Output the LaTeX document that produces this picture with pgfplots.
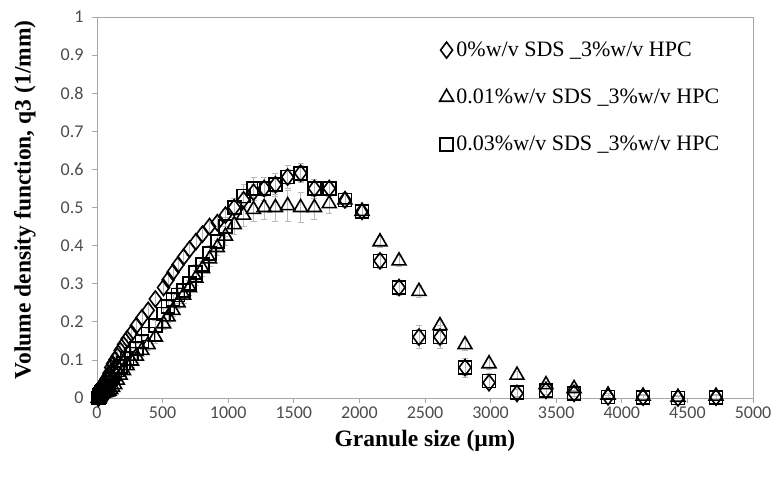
\documentclass[border=0pt]{standalone}
\usepackage{pgfplots}
\usepackage{pgfplotstable}
\pgfplotsset{compat=1.18}
\usepackage{fontspec}
\setmainfont{Liberation Serif}
\newfontfamily\carlito{Carlito}

% granule size (um), q3 for each formulation with its error
\pgfplotstableread{
x     D      De     T      Te     S      Se
10    0.000  0.005  0.000  0.005  0.000  0.005
12    0.000  0.005  0.000  0.005  0.000  0.005
14    0.005  0.005  0.000  0.005  0.000  0.005
16    0.008  0.005  0.000  0.005  0.002  0.005
18    0.010  0.005  0.002  0.005  0.004  0.005
21    0.012  0.005  0.004  0.005  0.006  0.005
24    0.015  0.005  0.006  0.005  0.008  0.005
28    0.018  0.005  0.008  0.005  0.010  0.005
32    0.020  0.005  0.010  0.005  0.012  0.005
36    0.025  0.005  0.011  0.005  0.015  0.005
41    0.030  0.005  0.012  0.005  0.018  0.005
47    0.035  0.005  0.013  0.005  0.020  0.005
54    0.040  0.010  0.014  0.005  0.022  0.010
62    0.045  0.010  0.015  0.005  0.025  0.010
70    0.050  0.010  0.015  0.005  0.028  0.010
80    0.055  0.010  0.016  0.005  0.032  0.010
92    0.065  0.010  0.018  0.010  0.040  0.010
105   0.080  0.010  0.022  0.010  0.050  0.010
119   0.090  0.015  0.028  0.010  0.058  0.015
136   0.100  0.015  0.035  0.010  0.065  0.015
155   0.110  0.015  0.047  0.010  0.073  0.015
177   0.125  0.015  0.060  0.015  0.082  0.015
202   0.140  0.015  0.072  0.015  0.092  0.015
230   0.155  0.015  0.085  0.015  0.103  0.015
263   0.170  0.015  0.097  0.015  0.116  0.015
300   0.190  0.015  0.110  0.015  0.130  0.015
342   0.210  0.015  0.125  0.015  0.148  0.015
390   0.230  0.015  0.140  0.015  0.168  0.015
445   0.260  0.015  0.160  0.015  0.190  0.015
507   0.290  0.015  0.195  0.015  0.220  0.015
542   0.310  0.015  0.213  0.015  0.240  0.015
579   0.330  0.015  0.230  0.015  0.258  0.015
618   0.350  0.015  0.250  0.015  0.270  0.020
660   0.370  0.015  0.270  0.020  0.282  0.020
705   0.390  0.015  0.290  0.020  0.300  0.020
753   0.410  0.015  0.315  0.020  0.330  0.020
804   0.430  0.015  0.340  0.020  0.350  0.020
858   0.450  0.015  0.365  0.020  0.380  0.020
917   0.460  0.015  0.395  0.020  0.410  0.020
979   0.480  0.015  0.425  0.025  0.450  0.025
1046  0.500  0.020  0.455  0.025  0.500  0.025
1117  0.520  0.020  0.480  0.030  0.530  0.030
1193  0.540  0.020  0.495  0.030  0.550  0.030
1274  0.550  0.020  0.500  0.030  0.550  0.030
1360  0.560  0.020  0.500  0.035  0.560  0.030
1453  0.580  0.020  0.505  0.040  0.580  0.030
1552  0.590  0.020  0.500  0.040  0.590  0.025
1657  0.550  0.020  0.500  0.030  0.550  0.025
1770  0.550  0.020  0.510  0.025  0.550  0.020
1890  0.520  0.020  0.520  0.020  0.520  0.020
2020  0.490  0.015  0.490  0.015  0.490  0.015
2157  0.360  0.015  0.410  0.015  0.360  0.020
2302  0.290  0.015  0.360  0.015  0.290  0.020
2454  0.160  0.020  0.280  0.015  0.160  0.030
2614  0.160  0.020  0.190  0.015  0.160  0.030
2805  0.080  0.020  0.140  0.015  0.080  0.025
2988  0.040  0.015  0.090  0.015  0.045  0.020
3201  0.012  0.010  0.060  0.010  0.015  0.010
3422  0.020  0.010  0.035  0.010  0.020  0.010
3636  0.012  0.008  0.025  0.008  0.012  0.008
3895  0.003  0.005  0.008  0.005  0.003  0.005
4162  0.002  0.005  0.005  0.005  0.002  0.005
4428  0.000  0.005  0.002  0.005  0.000  0.005
4718  0.002  0.005  0.005  0.005  0.002  0.005
}\datatable

\begin{document}
\begin{tikzpicture}
\begin{axis}[
  scale only axis,
  width=656pt, height=381pt,
  xmin=0, xmax=5000, ymin=0, ymax=1,
  xtick distance=500, ytick distance=0.1,
  axis line style={gray!70, line width=0.8pt},
  tick style={gray!70, line width=0.8pt},
  tick align=outside, major tick length=5pt,
  xtick pos=bottom, ytick pos=left,
  /pgf/number format/assume math mode=true,
  /pgf/number format/1000 sep={},
  yticklabel style={/pgf/number format/fixed, /pgf/number format/precision=1, xshift=-5pt},
  ticklabel style={font=\carlito\fontsize{18}{18}\selectfont, text=black!70},
  xlabel={Granule size (µm)},
  ylabel={Volume density function, q3 (1/mm)},
  label style={font=\bfseries\fontsize{23.5}{23.5}\selectfont, inner sep=0pt},
  xlabel style={at={(axis description cs:0.5,-0.085)}, anchor=north},
  ylabel style={at={(axis description cs:-0.093,0.52)}, anchor=south},
  error bars/y dir=both, error bars/y explicit,
  error bars/error bar style={gray!55, line width=0.5pt},
  error bars/error mark options={rotate=90, gray!55, mark size=3pt, line width=0.5pt},
  legend cell align=left,
  legend style={draw=none, fill=none, at={(axis description cs:0.522,0.94)}, anchor=north west,
    font=\fontsize{22}{22}\selectfont, row sep=27pt, inner sep=0pt,
    /tikz/every odd column/.append style={column sep=1pt}},
  legend image code/.code={\draw plot coordinates {(0pt,0pt)};},
]
\addplot[only marks, mark=diamond, mark size=8pt, mark options={black, line width=1.6pt}]
  table[x=x, y=D, y error=De] {\datatable};
\addlegendentry{0\%w/v SDS \_3\%w/v HPC}
\addplot[only marks, mark=triangle, mark size=8pt, mark options={black, line width=1.6pt}]
  table[x=x, y=T, y error=Te] {\datatable};
\addlegendentry{0.01\%w/v SDS \_3\%w/v HPC}
\addplot[only marks, mark=square, mark size=6.5pt, mark options={black, line width=1.6pt}]
  table[x=x, y=S, y error=Se] {\datatable};
\addlegendentry{0.03\%w/v SDS \_3\%w/v HPC}
\end{axis}
\pgfresetboundingbox
\path ([shift={(-97pt,-79pt)}]current axis.south west) rectangle ([shift={(28pt,17pt)}]current axis.north east);
\end{tikzpicture}
\end{document}
